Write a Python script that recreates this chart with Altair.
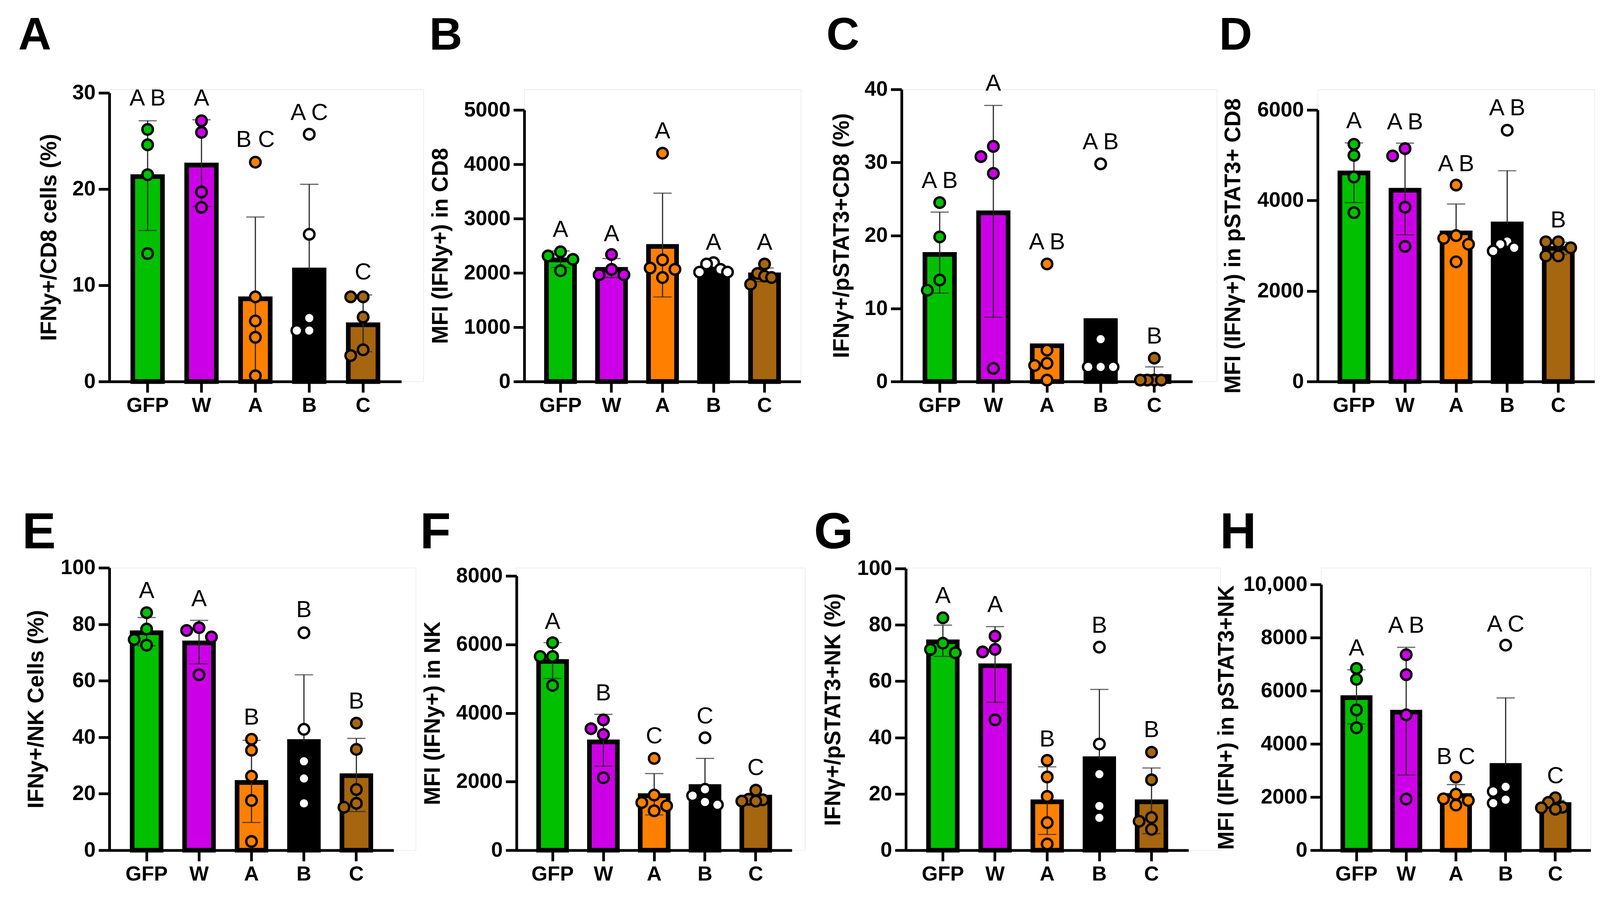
import altair as alt
import pandas as pd

groups = ["GFP", "W", "A", "B", "C"]
bar_colors = ["#00C000", "#CC00E6", "#FF8000", "#000000", "#A6650F"]
dot_colors = ["#00C000", "#CC00E6", "#FF8000", "#FFFFFF", "#A6650F"]

panel_letters = ["A", "B", "C", "D", "E", "F", "G", "H"]
y_titles = [
    "IFNy+/CD8 cells (%)",
    "MFI (IFNy+) in CD8",
    "IFNγ+/pSTAT3+CD8 (%)",
    "MFI (IFNγ+) in pSTAT3+ CD8",
    "IFNy+/NK Cells (%)",
    "MFI (IFNy+) in NK",
    "IFNγ+/pSTAT3+NK (%)",
    "MFI (IFN+) in pSTAT3+NK",
]
y_max = [30, 5000, 40, 6000, 100, 8000, 100, 10000]
y_step = [10, 1000, 10, 2000, 20, 2000, 20, 2000]

# ---- bar means (GFP, W, A, B, C) ----
means_A = [21.3, 22.5, 8.6, 11.6, 5.9]
means_B = [2239, 2065, 2488, 2080, 1965]
means_C = [17.4, 23.1, 4.9, 8.35, 0.7]
means_D = [4609, 4227, 3284, 3481, 2943]
means_E = [77.0, 73.4, 24.0, 38.5, 26.4]
means_F = [5506, 3159, 1592, 1857, 1551]
means_G = [74.0, 65.5, 17.2, 32.5, 17.2]
means_H = [5741, 5195, 2058, 3189, 1720]

# ---- error bar ends (None = not drawn) ----
err_lo_A = [15.7, 18.2, 0.2, None, 3.1]
err_hi_A = [27.1, 27.2, 17.1, 20.5, 9.0]
err_lo_B = [2100, 1915, 1557, None, 1840]
err_hi_B = [2403, 2264, 3468, 2140, 2090]
err_lo_C = [12.1, 8.8, None, None, None]
err_hi_C = [23.2, 37.8, None, None, 2.0]
err_lo_D = [3952, 3242, None, None, 2806]
err_hi_D = [5272, 5266, 3922, 4657, 3075]
err_lo_E = [72.4, 66.0, 9.8, None, 13.7]
err_hi_E = [82.4, 81.4, 38.9, 62.1, 39.6]
err_lo_F = [5008, 2452, 1029, None, 1310]
err_hi_F = [6053, 3963, 2235, 2677, 1632]
err_lo_G = [68.8, 52.5, 5.6, None, 5.9]
err_hi_G = [79.9, 79.4, 29.6, 57.1, 29.2]
err_lo_H = [4753, 2829, None, None, None]
err_hi_H = [6790, 7634, 2469, 5730, 1872]

# ---- individual points ----
pts_A = [[26.2, 24.6, 21.5, 13.3], [27.1, 25.9, 19.7, 18.1], [22.8, 8.8, 6.3, 4.6, 0.6],
         [25.7, 15.3, 6.6, 5.3, 5.3], [8.8, 8.8, 6.7, 3.3, 2.7]]
pts_B = [[2388, 2313, 2249, 2040], [2338, 2065, 1965, 1965], [4204, 2239, 2090, 2065, 1915],
         [2189, 2164, 2065, 2015, 2015], [2164, 1990, 1940, 1915, 1791]]
pts_C = [[24.5, 19.8, 13.9, 12.5], [32.2, 30.8, 28.5, 1.8], [16.1, 4.3, 2.5, 2.2, 0.2],
         [29.8, 5.8, 2.0, 2.0, 2.0], [3.2, 0.2, 0.2, 0.2, 0.2]]
pts_D = [[5242, 4997, 4519, 3731], [5146, 4985, 3851, 2985], [4340, 3224, 3164, 3033, 2645],
         [5552, 3093, 3033, 2955, 2884], [3087, 3087, 2955, 2776, 2776]]
pts_E = [[84.1, 78.3, 74.6, 72.6], [78.8, 77.8, 75.5, 62.1], [39.3, 35.4, 26.2, 17.6, 3.1],
         [77.0, 42.8, 31.5, 25.4, 16.6], [45.0, 35.7, 21.5, 16.6, 15.2]]
pts_F = [[6053, 5651, 5651, 4807], [3802, 3545, 3376, 2114], [2677, 1608, 1391, 1294, 1150],
         [3280, 1777, 1592, 1407, 1326], [1752, 1487, 1470, 1431, 1431]]
pts_G = [[82.5, 73.5, 71.3, 70.1], [76.0, 71.3, 70.4, 46.3], [31.9, 26.0, 19.1, 9.8, 2.2],
         [72.1, 37.7, 27.0, 15.7, 11.5], [34.8, 25.0, 11.6, 10.3, 7.4]]
pts_H = [[6842, 6430, 5278, 4609], [7356, 6605, 5093, 1924], [2747, 2109, 1934, 1872, 1698],
         [7716, 2387, 2212, 1903, 1770], [1975, 1800, 1615, 1595, 1543]]

# ---- significance letters and their heights ----
sig_A = ["A B", "A", "B C", "A C", "C"]
sig_y_A = [28.7, 28.7, 24.4, 27.2, 10.6]
sig_B = ["A", "A", "A", "A", "A"]
sig_y_B = [2662, 2587, 4478, 2423, 2423]
sig_C = ["A B", "A", "A B", "A B", "B"]
sig_y_C = [26.5, 39.8, 18.1, 31.8, 5.2]
sig_D = ["A", "A B", "A B", "A B", "B"]
sig_y_D = [5594, 5570, 4645, 5881, 3403]
sig_E = ["A", "A", "B", "B", "B"]
sig_y_E = [89.3, 86.4, 44.5, 82.5, 50.2]
sig_F = ["A", "B", "C", "C", "C"]
sig_y_F = [6455, 4365, 3119, 3698, 2195]
sig_G = ["A", "A", "B", "B", "B"]
sig_y_G = [87.7, 84.5, 36.8, 77.2, 40.2]
sig_H = ["A", "A B", "B C", "A C", "C"]
sig_y_H = [7325, 8179, 3241, 8230, 2521]

means = [means_A, means_B, means_C, means_D, means_E, means_F, means_G, means_H]
err_lo = [err_lo_A, err_lo_B, err_lo_C, err_lo_D, err_lo_E, err_lo_F, err_lo_G, err_lo_H]
err_hi = [err_hi_A, err_hi_B, err_hi_C, err_hi_D, err_hi_E, err_hi_F, err_hi_G, err_hi_H]
pts = [pts_A, pts_B, pts_C, pts_D, pts_E, pts_F, pts_G, pts_H]
sigs = [sig_A, sig_B, sig_C, sig_D, sig_E, sig_F, sig_G, sig_H]
sig_ys = [sig_y_A, sig_y_B, sig_y_C, sig_y_D, sig_y_E, sig_y_F, sig_y_G, sig_y_H]

# ---- layout (pixels) ----
FONT = "Liberation Sans"
P_IN, P_OUT = 0.45, 0.435
row_h = [753, 728]
ROW_SPACING = 1233   # top of row 1 plot to top of row 2 plot
# per panel: view width, x-range length, y-range top, title x, letter x, letter y, letter size
layout = [
    (810, 753, 9, -154, -235, -102, 118),
    (713, 713, 53, -215, -245, -102, 118),
    (813, 750, 0, -154, -194, -102, 118),
    (714, 714, 53, -217, -254, -102, 118),
    (790, 733, 0, -188, -225, -50, 130),
    (744, 710, 21, -215, -249, -50, 130),
    (811, 729, 2, -187, -237, -50, 130),
    (695, 695, 43, -243, -261, -50, 130),
]


def beeswarm(vals, ppu, d=32.0, thr=28.0, maxw=36.0):
    order = sorted(range(len(vals)), key=lambda i: -vals[i])
    placed = []
    offs = [0.0] * len(vals)
    cands = [0, -d, d, -2 * d, 2 * d, -3 * d, 3 * d]
    for i in order:
        y = vals[i] * ppu
        chosen = cands[-1]
        for c in cands:
            if all(((c - o) ** 2 + (y - py) ** 2) >= thr ** 2 for o, py in placed):
                chosen = c
                break
        placed.append((chosen, y))
        offs[i] = chosen
    m = max(abs(o) for o in offs)
    if m > maxw:
        offs = [o * maxw / m for o in offs]
    return offs


def panel(k):
    W, L, top, tx, lx, ly, lsize = layout[k]
    H = row_h[0] if k < 4 else row_h[1]
    ymax = y_max[k]
    ppu = (H - top) / ymax
    step = L / (5 - P_IN + 2 * P_OUT)
    bw = step * (1 - P_IN)
    c0 = P_OUT * step + bw / 2

    xscale = alt.Scale(domain=groups, range=[0, L], paddingInner=P_IN, paddingOuter=P_OUT)
    yscale = alt.Scale(domain=[0, ymax], range=[H, top], nice=False, zero=True)
    xaxis = alt.Axis(title=None, labelAngle=0, labelFont=FONT, labelFontWeight="bold",
                     labelFontSize=53, labelColor="black", tickSize=28, tickWidth=7,
                     tickColor="black", domainWidth=7, domainColor="black", labelPadding=8,
                     grid=False)
    ykw = dict(title=y_titles[k], titleFont=FONT, titleFontWeight="bold", titleFontSize=57,
               titleColor="black", titleAngle=270, titleAlign="center", titleBaseline="middle",
               titleX=tx, titleY=(H + top) / 2,
               values=list(range(0, ymax + 1, y_step[k])), labelFont=FONT,
               labelFontWeight="bold", labelFontSize=54, labelColor="black", tickSize=28,
               tickWidth=7, tickColor="black", domainWidth=7, domainColor="black",
               labelPadding=8, grid=False)
    if ymax >= 10000:
        ykw["labelExpr"] = "datum.value >= 10000 ? format(datum.value, ',') : format(datum.value, 'd')"
    else:
        ykw["format"] = "d"
    yaxis = alt.Axis(**ykw)

    X = alt.X("g:N", scale=xscale, sort=groups, axis=xaxis)

    bars = pd.DataFrame({"g": groups, "v": means[k]})
    err_rows, cap_rows = [], []
    for g, m, lo, hi in zip(groups, means[k], err_lo[k], err_hi[k]):
        a = lo if lo is not None else m
        b = hi if hi is not None else m
        if a != b:
            err_rows.append({"g": g, "lo": a, "hi": b})
        if lo is not None:
            cap_rows.append({"g": g, "v": lo})
        if hi is not None:
            cap_rows.append({"g": g, "v": hi})
    prow = []
    for gi, (g, vals) in enumerate(zip(groups, pts[k])):
        offs = beeswarm(vals, ppu)
        for v, o in zip(vals, offs):
            prow.append({"g": g, "v": v, "px": gi + o / step})
    sig = pd.DataFrame({"g": groups, "v": sig_ys[k], "t": sigs[k]})

    bar_layer = alt.Chart(bars).mark_bar(stroke="black", strokeWidth=12).encode(
        x=X, y=alt.Y("v:Q", scale=yscale, axis=yaxis),
        fill=alt.Fill("g:N", scale=alt.Scale(domain=groups, range=bar_colors), legend=None))
    rule_layer = alt.Chart(pd.DataFrame(err_rows)).mark_rule(color="#2a2a2a", strokeWidth=3).encode(
        x=X, y=alt.Y("lo:Q", scale=yscale, axis=yaxis), y2="hi:Q")
    cap_layer = alt.Chart(pd.DataFrame(cap_rows)).mark_tick(color="#2a2a2a", thickness=3, size=47).encode(
        x=X, y=alt.Y("v:Q", scale=yscale, axis=yaxis))
    sig_layer = alt.Chart(sig).mark_text(font=FONT, fontSize=60, baseline="alphabetic", color="black").encode(
        x=X, y=alt.Y("v:Q", scale=yscale, axis=yaxis), text="t:N")
    letter_layer = alt.Chart(pd.DataFrame({"t": [panel_letters[k]]})).mark_text(
        font=FONT, fontSize=lsize, fontWeight="bold", align="left", baseline="alphabetic", color="black"
    ).encode(x=alt.value(lx), y=alt.value(ly), text="t:N")
    band_layers = alt.layer(bar_layer, rule_layer, cap_layer, sig_layer, letter_layer)

    pt_layer = alt.Chart(pd.DataFrame(prow)).mark_circle(size=740, stroke="black", strokeWidth=6, opacity=1).encode(
        x=alt.X("px:Q", scale=alt.Scale(domain=[0, 4], range=[c0, c0 + 4 * step], nice=False, zero=False),
                axis=None),
        y=alt.Y("v:Q", scale=yscale, axis=yaxis),
        color=alt.Color("g:N", scale=alt.Scale(domain=groups, range=dot_colors), legend=None))

    return alt.layer(band_layers, pt_layer).resolve_scale(x="independent").properties(width=W, height=H)


row1 = alt.hconcat(*[panel(k) for k in range(4)], spacing=260, bounds="flush")
row2 = alt.hconcat(*[panel(k) for k in range(4, 8)], spacing=260, bounds="flush")
chart = alt.vconcat(row1, row2, spacing=ROW_SPACING, bounds="flush").properties(
    padding={"left": 38, "top": 17, "right": 5, "bottom": 5}
).configure_view(stroke=None).configure(background="white")

chart.save("out.html", embed_options={"renderer": "svg", "actions": False})
